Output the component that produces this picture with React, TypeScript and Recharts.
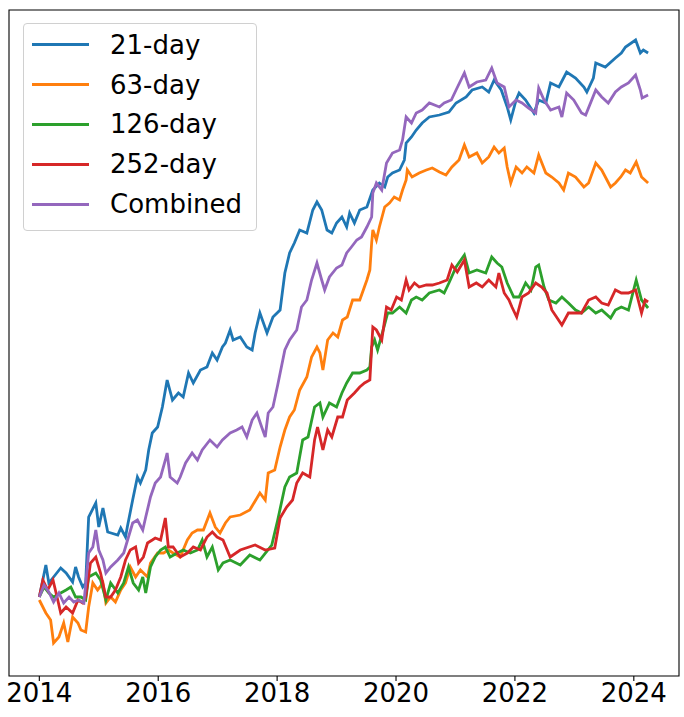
import React from 'react';
import { LineChart, Line, XAxis, YAxis, ReferenceArea } from 'recharts';

// [year, cumulative value]
const day21: [number, number][] = [
  [2014.0, 0.03], [2014.11, 0.35], [2014.16, 0.17], [2014.24, 0.23], [2014.36, 0.32], [2014.45, 0.27],
  [2014.56, 0.18], [2014.61, 0.33], [2014.66, 0.23], [2014.73, 0.13], [2014.78, 0.17], [2014.83, 0.83],
  [2014.95, 0.97], [2015.0, 0.73], [2015.07, 0.92], [2015.15, 0.68], [2015.32, 0.65], [2015.37, 0.72],
  [2015.45, 0.63], [2015.48, 0.73], [2015.57, 1.0], [2015.65, 1.23], [2015.7, 1.17], [2015.79, 1.3],
  [2015.84, 1.5], [2015.9, 1.67], [2015.99, 1.73], [2016.07, 1.93], [2016.15, 2.2], [2016.24, 2.0],
  [2016.34, 2.07], [2016.42, 2.03], [2016.51, 2.27], [2016.59, 2.17], [2016.71, 2.3], [2016.82, 2.33],
  [2016.91, 2.47], [2016.99, 2.4], [2017.08, 2.53], [2017.13, 2.57], [2017.21, 2.7], [2017.26, 2.6],
  [2017.38, 2.63], [2017.49, 2.53], [2017.58, 2.5], [2017.63, 2.67], [2017.71, 2.87], [2017.83, 2.67],
  [2017.93, 2.83], [2018.05, 2.9], [2018.13, 3.27], [2018.21, 3.47], [2018.29, 3.57], [2018.38, 3.7],
  [2018.5, 3.67], [2018.6, 3.9], [2018.67, 3.98], [2018.75, 3.9], [2018.84, 3.7], [2018.92, 3.67],
  [2019.0, 3.77], [2019.09, 3.83], [2019.17, 3.73], [2019.22, 3.87], [2019.3, 3.77], [2019.39, 3.9],
  [2019.51, 3.93], [2019.61, 4.1], [2019.72, 4.17], [2019.81, 4.13], [2019.86, 4.23], [2019.94, 4.27],
  [2020.06, 4.3], [2020.14, 4.4], [2020.17, 4.57], [2020.26, 4.63], [2020.34, 4.7], [2020.44, 4.77],
  [2020.56, 4.83], [2020.73, 4.85], [2020.89, 4.88], [2021.01, 4.97], [2021.18, 5.03], [2021.28, 5.1],
  [2021.45, 5.13], [2021.56, 5.08], [2021.65, 5.2], [2021.77, 5.1], [2021.87, 4.93], [2021.93, 4.8],
  [2022.02, 5.0], [2022.07, 5.07], [2022.18, 5.0], [2022.32, 4.87], [2022.4, 5.0], [2022.52, 4.97],
  [2022.6, 5.17], [2022.74, 5.13], [2022.87, 5.28], [2023.02, 5.22], [2023.16, 5.13], [2023.21, 5.08],
  [2023.32, 5.22], [2023.36, 5.37], [2023.52, 5.33], [2023.69, 5.42], [2023.79, 5.47], [2023.86, 5.53],
  [2024.03, 5.6], [2024.11, 5.47], [2024.16, 5.5], [2024.24, 5.47],
];

const day63: [number, number][] = [
  [2014.0, 0.0], [2014.11, -0.13], [2014.19, -0.2], [2014.24, -0.43], [2014.33, -0.37], [2014.41, -0.23],
  [2014.48, -0.42], [2014.56, -0.17], [2014.65, -0.23], [2014.7, -0.3], [2014.78, -0.32], [2014.83, -0.07],
  [2014.9, 0.17], [2014.98, 0.1], [2015.07, 0.17], [2015.12, -0.03], [2015.2, 0.03], [2015.28, -0.02],
  [2015.37, 0.1], [2015.45, 0.17], [2015.53, 0.33], [2015.62, 0.23], [2015.7, 0.3], [2015.82, 0.23],
  [2015.87, 0.37], [2015.99, 0.47], [2016.09, 0.47], [2016.17, 0.5], [2016.25, 0.47], [2016.37, 0.43],
  [2016.49, 0.6], [2016.57, 0.67], [2016.66, 0.7], [2016.76, 0.7], [2016.87, 0.87], [2016.96, 0.73],
  [2017.04, 0.67], [2017.13, 0.77], [2017.21, 0.83], [2017.38, 0.85], [2017.54, 0.9], [2017.71, 1.07],
  [2017.8, 1.0], [2017.85, 1.27], [2017.96, 1.3], [2018.05, 1.53], [2018.13, 1.7], [2018.21, 1.83],
  [2018.29, 1.9], [2018.38, 2.1], [2018.5, 2.23], [2018.58, 2.43], [2018.67, 2.53], [2018.72, 2.47],
  [2018.77, 2.3], [2018.85, 2.6], [2018.94, 2.67], [2019.02, 2.63], [2019.1, 2.8], [2019.18, 2.83],
  [2019.27, 3.0], [2019.39, 3.0], [2019.51, 3.2], [2019.56, 3.3], [2019.59, 3.57], [2019.61, 3.7],
  [2019.67, 3.6], [2019.72, 3.73], [2019.81, 3.93], [2019.89, 3.97], [2019.97, 4.03], [2020.06, 4.0],
  [2020.11, 4.1], [2020.17, 4.2], [2020.19, 4.3], [2020.27, 4.23], [2020.39, 4.27], [2020.51, 4.3],
  [2020.61, 4.32], [2020.73, 4.28], [2020.84, 4.25], [2020.94, 4.33], [2021.06, 4.4], [2021.15, 4.55],
  [2021.23, 4.43], [2021.36, 4.47], [2021.45, 4.37], [2021.56, 4.43], [2021.65, 4.53], [2021.73, 4.47],
  [2021.82, 4.52], [2021.87, 4.33], [2021.93, 4.17], [2022.02, 4.33], [2022.12, 4.27], [2022.2, 4.33],
  [2022.32, 4.27], [2022.4, 4.45], [2022.52, 4.27], [2022.62, 4.23], [2022.74, 4.17], [2022.82, 4.1],
  [2022.9, 4.27], [2023.02, 4.23], [2023.16, 4.13], [2023.24, 4.17], [2023.36, 4.37], [2023.46, 4.3],
  [2023.61, 4.13], [2023.69, 4.17], [2023.78, 4.23], [2023.86, 4.3], [2023.94, 4.27], [2024.04, 4.38],
  [2024.13, 4.23], [2024.24, 4.17],
];

const day126: [number, number][] = [
  [2014.0, 0.03], [2014.08, 0.13], [2014.16, 0.07], [2014.24, 0.03], [2014.36, 0.07], [2014.45, 0.1],
  [2014.53, 0.13], [2014.61, 0.03], [2014.7, 0.03], [2014.78, 0.0], [2014.83, 0.23], [2014.95, 0.27],
  [2015.03, 0.2], [2015.12, 0.0], [2015.2, 0.17], [2015.32, 0.07], [2015.42, 0.17], [2015.5, 0.33],
  [2015.58, 0.17], [2015.67, 0.1], [2015.74, 0.23], [2015.79, 0.07], [2015.87, 0.33], [2015.95, 0.43],
  [2016.04, 0.5], [2016.12, 0.53], [2016.2, 0.43], [2016.32, 0.47], [2016.42, 0.5], [2016.54, 0.47],
  [2016.66, 0.5], [2016.74, 0.6], [2016.82, 0.43], [2016.91, 0.53], [2017.01, 0.3], [2017.09, 0.37],
  [2017.21, 0.4], [2017.38, 0.35], [2017.54, 0.45], [2017.71, 0.4], [2017.91, 0.55], [2018.01, 0.8],
  [2018.13, 1.13], [2018.21, 1.23], [2018.33, 1.27], [2018.43, 1.6], [2018.52, 1.63], [2018.63, 1.93],
  [2018.72, 1.97], [2018.77, 1.83], [2018.88, 1.97], [2019.0, 1.93], [2019.09, 2.07], [2019.17, 2.17],
  [2019.27, 2.27], [2019.39, 2.27], [2019.51, 2.3], [2019.56, 2.33], [2019.59, 2.53], [2019.64, 2.6],
  [2019.69, 2.5], [2019.77, 2.67], [2019.86, 2.87], [2019.94, 2.87], [2020.06, 2.93], [2020.17, 2.87],
  [2020.26, 3.0], [2020.34, 3.03], [2020.44, 3.0], [2020.56, 3.07], [2020.73, 3.1], [2020.81, 3.07],
  [2020.89, 3.17], [2021.01, 3.33], [2021.15, 3.45], [2021.23, 3.27], [2021.36, 3.3], [2021.51, 3.27],
  [2021.61, 3.43], [2021.7, 3.37], [2021.78, 3.33], [2021.87, 3.17], [2021.98, 3.03], [2022.07, 3.03],
  [2022.18, 3.17], [2022.27, 3.1], [2022.35, 3.33], [2022.4, 3.35], [2022.49, 3.13], [2022.57, 3.0],
  [2022.69, 2.97], [2022.79, 3.03], [2022.9, 2.97], [2023.02, 2.9], [2023.12, 2.87], [2023.24, 2.93],
  [2023.36, 2.87], [2023.46, 2.9], [2023.61, 2.82], [2023.69, 2.9], [2023.79, 2.93], [2023.91, 2.9],
  [2024.04, 3.2], [2024.13, 3.0], [2024.24, 2.92],
];

const day252: [number, number][] = [
  [2014.0, 0.03], [2014.06, 0.2], [2014.14, 0.1], [2014.23, 0.2], [2014.31, 0.0], [2014.36, -0.13],
  [2014.45, -0.07], [2014.56, -0.13], [2014.65, 0.0], [2014.73, -0.03], [2014.78, 0.03], [2014.86, 0.37],
  [2014.95, 0.43], [2015.03, 0.27], [2015.12, 0.03], [2015.2, 0.03], [2015.28, 0.1], [2015.37, 0.23],
  [2015.45, 0.4], [2015.53, 0.5], [2015.62, 0.53], [2015.67, 0.37], [2015.75, 0.43], [2015.82, 0.57],
  [2015.9, 0.6], [2015.95, 0.62], [2016.04, 0.6], [2016.12, 0.82], [2016.17, 0.53], [2016.25, 0.53],
  [2016.37, 0.43], [2016.49, 0.47], [2016.59, 0.53], [2016.71, 0.5], [2016.82, 0.63], [2016.91, 0.68],
  [2016.99, 0.63], [2017.09, 0.6], [2017.21, 0.43], [2017.38, 0.5], [2017.63, 0.55], [2017.8, 0.5],
  [2017.96, 0.52], [2018.05, 0.82], [2018.16, 0.93], [2018.26, 1.0], [2018.33, 1.17], [2018.43, 1.27],
  [2018.55, 1.23], [2018.63, 1.6], [2018.68, 1.73], [2018.77, 1.5], [2018.85, 1.7], [2018.92, 1.63],
  [2019.02, 1.83], [2019.1, 1.83], [2019.18, 2.0], [2019.3, 2.07], [2019.39, 2.13], [2019.47, 2.17],
  [2019.56, 2.2], [2019.61, 2.73], [2019.67, 2.7], [2019.76, 2.6], [2019.84, 2.93], [2019.92, 2.9],
  [2020.01, 3.03], [2020.09, 3.0], [2020.17, 3.2], [2020.22, 3.1], [2020.31, 3.17], [2020.39, 3.13],
  [2020.51, 3.15], [2020.61, 3.15], [2020.73, 3.17], [2020.86, 3.2], [2020.94, 3.35], [2021.03, 3.28],
  [2021.15, 3.4], [2021.23, 3.13], [2021.35, 3.17], [2021.45, 3.13], [2021.56, 3.2], [2021.68, 3.13],
  [2021.73, 3.27], [2021.82, 3.07], [2021.9, 3.0], [2021.95, 2.93], [2022.03, 2.83], [2022.12, 3.03],
  [2022.23, 3.07], [2022.35, 3.17], [2022.45, 3.13], [2022.54, 3.07], [2022.62, 2.9], [2022.7, 2.83],
  [2022.79, 2.75], [2022.9, 2.87], [2023.02, 2.87], [2023.12, 2.87], [2023.24, 3.0], [2023.36, 3.03],
  [2023.46, 2.97], [2023.57, 2.95], [2023.69, 3.1], [2023.79, 3.07], [2023.91, 3.07], [2024.03, 3.1],
  [2024.13, 2.87], [2024.19, 3.0], [2024.24, 2.98],
];

const combined: [number, number][] = [
  [2014.0, 0.03], [2014.08, 0.15], [2014.16, 0.08], [2014.24, -0.02], [2014.33, 0.07], [2014.41, -0.03],
  [2014.5, 0.03], [2014.58, -0.02], [2014.66, 0.0], [2014.75, -0.03], [2014.83, 0.47], [2014.9, 0.53],
  [2014.95, 0.7], [2015.0, 0.5], [2015.07, 0.4], [2015.12, 0.27], [2015.2, 0.33], [2015.32, 0.4],
  [2015.42, 0.47], [2015.5, 0.63], [2015.57, 0.77], [2015.65, 0.8], [2015.74, 0.7], [2015.79, 0.83],
  [2015.87, 1.03], [2015.95, 1.17], [2016.04, 1.23], [2016.12, 1.4], [2016.15, 1.47], [2016.2, 1.23],
  [2016.32, 1.17], [2016.37, 1.23], [2016.46, 1.37], [2016.57, 1.47], [2016.66, 1.4], [2016.74, 1.5],
  [2016.87, 1.6], [2016.99, 1.53], [2017.08, 1.6], [2017.21, 1.67], [2017.32, 1.7], [2017.41, 1.73],
  [2017.49, 1.63], [2017.58, 1.8], [2017.66, 1.87], [2017.74, 1.73], [2017.8, 1.63], [2017.85, 1.87],
  [2017.93, 1.93], [2018.01, 2.15], [2018.13, 2.5], [2018.21, 2.6], [2018.33, 2.7], [2018.41, 2.93],
  [2018.5, 3.0], [2018.58, 3.2], [2018.67, 3.37], [2018.75, 3.2], [2018.8, 3.1], [2018.88, 3.23],
  [2019.0, 3.32], [2019.09, 3.35], [2019.17, 3.47], [2019.25, 3.53], [2019.34, 3.6], [2019.42, 3.63],
  [2019.51, 3.73], [2019.59, 3.83], [2019.61, 4.07], [2019.67, 4.17], [2019.76, 4.1], [2019.84, 4.37],
  [2019.94, 4.47], [2020.06, 4.5], [2020.11, 4.6], [2020.17, 4.83], [2020.26, 4.77], [2020.34, 4.87],
  [2020.44, 4.9], [2020.56, 4.97], [2020.73, 4.93], [2020.81, 4.97], [2020.93, 5.0], [2021.01, 5.1],
  [2021.15, 5.27], [2021.23, 5.13], [2021.36, 5.18], [2021.51, 5.2], [2021.61, 5.32], [2021.7, 5.17],
  [2021.82, 5.13], [2021.9, 4.93], [2022.02, 5.0], [2022.12, 4.97], [2022.23, 4.92], [2022.35, 4.87],
  [2022.4, 5.12], [2022.49, 5.0], [2022.6, 4.9], [2022.74, 4.93], [2022.79, 4.83], [2022.87, 5.07],
  [2022.99, 5.0], [2023.12, 4.87], [2023.19, 4.85], [2023.36, 5.1], [2023.46, 5.03], [2023.57, 4.97],
  [2023.69, 5.08], [2023.79, 5.13], [2023.91, 5.17], [2024.03, 5.25], [2024.11, 5.1], [2024.14, 5.02],
  [2024.24, 5.05],
];

const yearTicks = [2014, 2016, 2018, 2020, 2022, 2024];
const xDomain: [number, number] = [2013.49, 2024.76];
const yDomain: [number, number] = [-0.76, 5.9];

const seriesList = [
  { name: '21-day', points: day21, color: '#1f77b4' },
  { name: '63-day', points: day63, color: '#ff7f0e' },
  { name: '126-day', points: day126, color: '#2ca02c' },
  { name: '252-day', points: day252, color: '#d62728' },
  { name: 'Combined', points: combined, color: '#9467bd' },
];

const FONT = '"DejaVu Sans", sans-serif';

function toRows(points: [number, number][]) {
  return points.map(([t, v]) => ({ t, v }));
}

function LegendBox() {
  return (
    <div
      style={{
        position: 'absolute',
        left: 23,
        top: 23,
        width: 232,
        height: 205,
        border: '1px solid #d0d0d0',
        borderRadius: 4,
        background: 'rgba(255,255,255,0.8)',
        paddingTop: 1,
        fontFamily: FONT,
        fontSize: 26,
      }}
    >
      {seriesList.map((s) => (
        <div key={s.name} style={{ display: 'flex', alignItems: 'center', height: 39.8 }}>
          <div style={{ width: 57, height: 3, marginLeft: 8, marginRight: 21, background: s.color }} />
          <span style={{ lineHeight: 1, color: '#000' }}>{s.name}</span>
        </div>
      ))}
    </div>
  );
}

export default function App() {
  return (
    <div style={{ position: 'absolute', left: 0, top: 0, width: 684, height: 717, background: '#fff' }}>
      <LineChart width={684} height={717} margin={{ top: 10, right: 5, left: 9, bottom: 0 }}>
        <XAxis
          dataKey="t"
          type="number"
          domain={xDomain}
          allowDataOverflow
          ticks={yearTicks}
          height={41}
          tickSize={5}
          tickMargin={3}
          axisLine={false}
          tickLine={{ stroke: '#000', strokeWidth: 1.1 }}
          tick={{ fill: '#000', fontSize: 26, fontFamily: FONT }}
        />
        <YAxis type="number" domain={yDomain} allowDataOverflow hide />
        <ReferenceArea
          x1={xDomain[0]}
          x2={xDomain[1]}
          y1={yDomain[0]}
          y2={yDomain[1]}
          fill="none"
          stroke="#000"
          strokeWidth={1.1}
          ifOverflow="visible"
        />
        {seriesList.map((s) => (
          <Line
            key={s.name}
            data={toRows(s.points)}
            dataKey="v"
            type="linear"
            stroke={s.color}
            strokeWidth={2.8}
            dot={false}
            activeDot={false}
            isAnimationActive={false}
          />
        ))}
      </LineChart>
      <LegendBox />
    </div>
  );
}
